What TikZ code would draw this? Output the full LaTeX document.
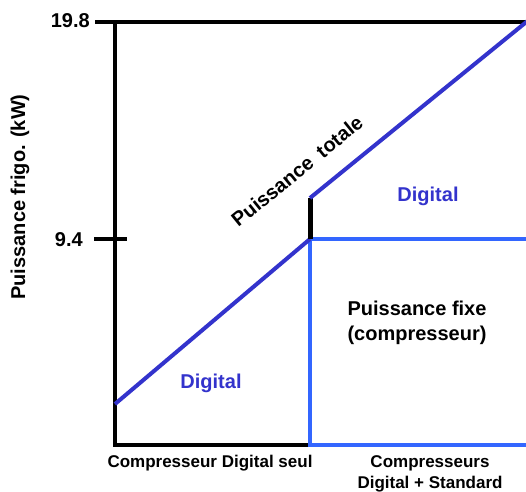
\documentclass[tikz,border=0pt]{standalone}
\usepackage{fontspec}
\setmainfont{Liberation Sans}
\definecolor{dblue}{HTML}{3333CC}
\definecolor{lblue}{HTML}{3366FF}
\begin{document}
\begin{tikzpicture}[x=1pt,y=-1pt,
  axis/.style={line width=4.5pt,black},
  total/.style={line width=4pt,dblue},
  fixe/.style={line width=4pt,lblue},
  lab/.style={font=\fontsize{20}{25}\selectfont\bfseries, inner sep=0pt, align=center},
  blab/.style={font=\fontsize{17}{21}\selectfont\bfseries, inner sep=0pt, align=center},
]
\useasboundingbox (0,0) rectangle (526,491);
% coordinates
\coordinate (topL) at (95,22);
\coordinate (topR) at (530,22);
\coordinate (origTop) at (115,22);
\coordinate (orig) at (115,445);
\coordinate (mid) at (310,445);
\coordinate (tickL) at (94,239);
\coordinate (tickR) at (127,239);
\coordinate (startD) at (115,404);
\coordinate (knee) at (310,239);
\coordinate (jump) at (310,198);
\coordinate (endD) at (530,19);
\coordinate (fixR) at (530,239);
\coordinate (botR) at (530,445);
% axes
\draw[axis] (topL) -- (topR);
\draw[axis] (origTop) -- (orig) -- (mid);
\draw[axis] (tickL) -- (tickR);
% light blue (fixed power)
\draw[fixe] (fixR) -- (knee) -- (mid) -- (botR);
% total power
\draw[total] (startD) -- (knee);
\draw[line width=5pt,black] (knee) -- (jump);
\draw[total] (jump) -- (endD);
% labels
\node[lab, anchor=east] (l198) at (90,21) {19.8};
\node[lab, anchor=east] (l94) at (83,240) {9.4};
\node[lab, rotate=90] (ylab) at (20,197) {Puissance frigo. (kW)};
\node[lab, rotate=39] (ptot) at (297,171) {Puissance\hspace{0.5em}totale};
\node[lab, text=dblue] (dig1) at (428,196) {Digital};
\node[lab, text=dblue] (dig2) at (211,383) {Digital};
\node[lab] (pfix) at (417,323) {Puissance fixe\\(compresseur)};
\node[blab] (x1) at (210,463) {Compresseur Digital seul};
\node[blab] (x2) at (430,474) {Compresseurs\\Digital + Standard};
\end{tikzpicture}
\end{document}
